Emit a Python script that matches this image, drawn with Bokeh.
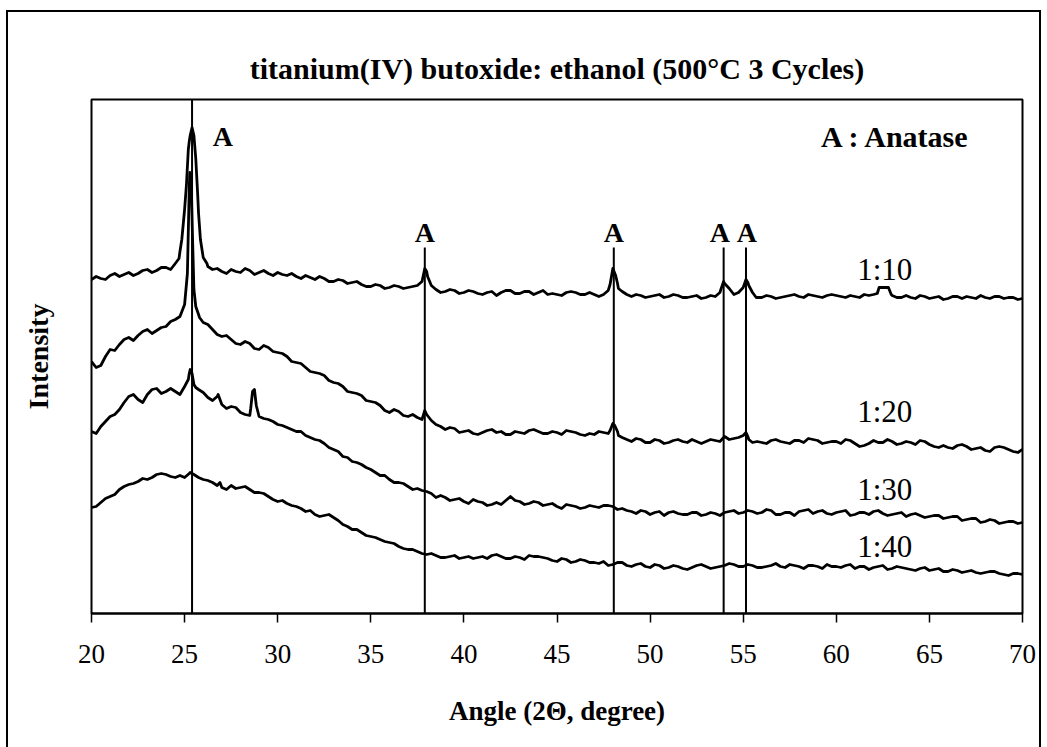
from bokeh.plotting import figure
from bokeh.models import Range1d, Label, FixedTicker
from bokeh.layouts import column
from bokeh.embed import file_html
from bokeh.resources import INLINE

# ---------------- data ----------------
angle = [20.0, 20.5, 21.0, 21.5, 22.0, 22.5, 23.0, 23.5, 24.0, 24.5,
         25.0, 25.5, 26.0, 26.5, 27.0, 27.5, 28.0, 28.5, 29.0, 29.5,
         30.0, 30.5, 31.0, 31.5, 32.0, 32.5, 33.0, 33.5, 34.0, 34.5,
         35.0, 35.5, 36.0, 36.5, 37.0, 37.5, 38.0, 38.5, 39.0, 39.5,
         40.0, 40.5, 41.0, 41.5, 42.0, 42.5, 43.0, 43.5, 44.0, 44.5,
         45.0, 45.5, 46.0, 46.5, 47.0, 47.5, 48.0, 48.5, 49.0, 49.5,
         50.0, 50.5, 51.0, 51.5, 52.0, 52.5, 53.0, 53.5, 54.0, 54.5,
         55.0, 55.5, 56.0, 56.5, 57.0, 57.5, 58.0, 58.5, 59.0, 59.5,
         60.0, 60.5, 61.0, 61.5, 62.0, 62.5, 63.0, 63.5, 64.0, 64.5,
         65.0, 65.5, 66.0, 66.5, 67.0, 67.5, 68.0, 68.5, 69.0, 69.5,
         70.0]
angle_mid = [20.25, 20.75, 21.25, 21.75, 22.25, 22.75, 23.25, 23.75, 24.25, 24.75,
             25.25, 25.75, 26.25, 26.75, 27.25, 27.75, 28.25, 28.75, 29.25, 29.75,
             30.25, 30.75, 31.25, 31.75, 32.25, 32.75, 33.25, 33.75, 34.25, 34.75,
             35.25, 35.75, 36.25, 36.75, 37.25, 37.75, 38.25, 38.75, 39.25, 39.75,
             40.25, 40.75, 41.25, 41.75, 42.25, 42.75, 43.25, 43.75, 44.25, 44.75,
             45.25, 45.75, 46.25, 46.75, 47.25, 47.75, 48.25, 48.75, 49.25, 49.75,
             50.25, 50.75, 51.25, 51.75, 52.25, 52.75, 53.25, 53.75, 54.25, 54.75,
             55.25, 55.75, 56.25, 56.75, 57.25, 57.75, 58.25, 58.75, 59.25, 59.75,
             60.25, 60.75, 61.25, 61.75, 62.25, 62.75, 63.25, 63.75, 64.25, 64.75,
             65.25, 65.75, 66.25, 66.75, 67.25, 67.75, 68.25, 68.75, 69.25, 69.75]

# ---- 1:10 ----
i_1_10 = [334, 335, 338, 337, 341, 340, 344, 343, 346, 350,
          404, 478, 356, 344, 342, 344, 341, 343, 341, 340,
          341, 338, 337, 338, 334, 335, 332, 333, 331, 329,
          327, 328, 326, 327, 326, 328, 342, 324, 322, 323,
          321, 322, 319, 322, 321, 323, 320, 322, 321, 319,
          319, 321, 321, 319, 319, 319, 345, 322, 317, 318,
          317, 319, 317, 318, 316, 318, 316, 317, 330, 319,
          326, 321, 316, 317, 316, 318, 317, 319, 317, 318,
          318, 316, 317, 319, 319, 326, 318, 316, 316, 318,
          315, 317, 315, 317, 317, 315, 316, 317, 315, 316,
          315]
i_1_10_mid = [337, 334, 340, 339, 338, 343, 341, 346, 344, 362,
              472, 400, 347, 345, 340, 342, 345, 339, 343, 338,
              339, 340, 335, 336, 337, 332, 334, 330, 332, 327,
              329, 325, 328, 325, 327, 332, 328, 321, 324, 320,
              323, 320, 321, 318, 323, 320, 322, 319, 323, 320,
              318, 322, 319, 321, 317, 323, 330, 319, 319, 316,
              318, 316, 319, 316, 317, 315, 318, 321, 325, 321,
              331, 316, 318, 315, 317, 319, 316, 318, 316, 319,
              317, 318, 316, 318, 323, 326, 316, 318, 315, 317,
              316, 314, 317, 315, 316, 318, 315, 317, 316, 314]
peak_1_10_x = [24.7, 24.85, 25.1, 25.2, 25.3, 25.4, 25.6, 25.7, 25.85, 26.2,
               37.9, 38.05, 47.85, 48.15, 48.3,
               53.8, 53.95, 54.2, 54.8, 55.15, 55.3, 55.7,
               62.2, 62.3, 62.8, 62.95]
peak_1_10_y = [355, 374, 429, 464, 478, 486, 455, 420, 374, 350,
               345, 337, 329, 338, 325,
               324, 332, 326, 322, 334, 328, 316,
               320, 326, 326, 319]

# ---- 1:20 ----
i_1_20 = [252, 248, 264, 269, 276, 278, 284, 283, 287, 294,
          309, 324, 291, 284, 277, 274, 269, 270, 264, 266,
          261, 257, 251, 246, 241, 238, 231, 227, 221, 218,
          212, 208, 201, 202, 197, 196, 199, 189, 184, 185,
          182, 180, 181, 184, 182, 179, 181, 183, 182, 180,
          181, 183, 181, 178, 179, 181, 190, 176, 172, 174,
          171, 173, 171, 174, 171, 172, 172, 173, 177, 175,
          178, 171, 171, 173, 172, 170, 173, 175, 173, 171,
          172, 174, 170, 168, 173, 171, 172, 170, 171, 173,
          169, 166, 166, 168, 167, 165, 163, 166, 166, 162,
          164]
i_1_20_mid = [246, 257, 263, 274, 273, 282, 280, 286, 292, 297,
              425, 299, 289, 279, 278, 270, 272, 265, 268, 262,
              260, 252, 250, 242, 240, 233, 230, 222, 220, 213,
              211, 203, 204, 198, 199, 194, 193, 187, 186, 181,
              183, 179, 183, 181, 179, 182, 180, 184, 180, 182,
              179, 182, 179, 180, 182, 180, 182, 174, 175, 171,
              174, 170, 173, 172, 174, 170, 174, 172, 174, 176,
              177, 172, 170, 174, 171, 173, 171, 174, 170, 172,
              170, 173, 167, 170, 171, 174, 169, 172, 169, 172,
              167, 168, 165, 169, 164, 166, 162, 167, 164, 161]
peak_1_20_x = [25.15, 25.22, 25.28, 25.35, 25.42, 25.6, 25.8,
               37.9, 47.85, 48.1, 48.3, 55.15, 55.3]
peak_1_20_y = [340, 400, 441, 436, 380, 307, 296,
               203, 183, 188, 178, 181, 174]

# ---- 1:30 ----
i_1_30 = [182, 187, 197, 204, 217, 214, 219, 225, 222, 222,
          227, 229, 221, 213, 209, 207, 201, 198, 197, 194,
          189, 186, 182, 178, 174, 170, 164, 157, 152, 149,
          144, 138, 134, 131, 127, 125, 122, 116, 116, 114,
          112, 114, 111, 109, 109, 117, 112, 110, 111, 109,
          107, 109, 107, 106, 107, 108, 107, 105, 102, 103,
          99, 102, 101, 100, 99, 101, 99, 100, 101, 103,
          101, 102, 101, 103, 99, 101, 102, 104, 102, 100,
          101, 103, 99, 101, 102, 100, 99, 101, 99, 98,
          97, 98, 96, 97, 94, 95, 92, 93, 91, 92,
          91]
i_1_30_mid = [180, 192, 199, 211, 219, 211, 224, 220, 225, 219,
              240, 224, 216, 217, 205, 206, 199, 224, 195, 192,
              188, 184, 182, 176, 173, 166, 162, 156, 151, 146,
              141, 138, 131, 130, 124, 123, 120, 118, 113, 115,
              110, 112, 108, 111, 113, 113, 109, 112, 108, 110,
              105, 108, 105, 108, 106, 108, 104, 103, 100, 102,
              101, 98, 102, 99, 101, 98, 101, 98, 102, 100,
              103, 100, 104, 99, 101, 98, 103, 100, 103, 99,
              102, 98, 101, 99, 103, 98, 100, 97, 100, 96,
              98, 95, 97, 93, 95, 91, 94, 90, 92, 90]
peak_1_30_x = [25.2, 25.3, 25.4, 25.6, 26.8, 28.55, 28.65, 28.75, 28.85]
peak_1_30_y = [234, 244, 240, 226, 219, 205, 222, 224, 208]

# ---- 1:40 ----
i_1_40 = [106, 111, 117, 124, 129, 132, 134, 139, 139, 136,
          136, 139, 134, 131, 126, 128, 126, 124, 121, 117,
          112, 110, 107, 102, 99, 98, 96, 89, 84, 81,
          77, 74, 71, 67, 64, 62, 59, 58, 56, 58,
          56, 55, 57, 58, 57, 55, 56, 58, 57, 55,
          52, 54, 52, 53, 51, 52, 49, 51, 47, 50,
          46, 48, 46, 47, 44, 48, 47, 46, 48, 49,
          47, 48, 46, 48, 47, 49, 47, 48, 47, 49,
          47, 48, 45, 47, 46, 48, 45, 46, 44, 45,
          43, 45, 42, 43, 42, 41, 41, 42, 39, 40,
          39]
i_1_40_mid = [107, 115, 119, 127, 130, 135, 136, 140, 137, 138,
              140, 136, 133, 128, 124, 125, 127, 121, 120, 114,
              113, 108, 105, 103, 97, 99, 93, 87, 84, 78,
              76, 72, 70, 65, 64, 60, 60, 56, 57, 55,
              57, 56, 55, 59, 55, 57, 54, 57, 56, 53,
              55, 51, 54, 51, 50, 48, 51, 48, 49, 47,
              49, 45, 48, 45, 46, 49, 45, 47, 50, 47,
              49, 46, 47, 50, 46, 48, 45, 48, 45, 47,
              46, 49, 47, 44, 47, 44, 47, 45, 43, 46,
              44, 42, 44, 41, 43, 40, 42, 40, 38, 40]
peak_1_40_x = [25.3, 26.9]
peak_1_40_y = [141, 131]

series_names = ["1:10", "1:20", "1:30", "1:40"]
anatase_peaks = [25.4, 37.9, 48.05, 53.95, 55.15]
x_ticks = [20, 25, 30, 35, 40, 45, 50, 55, 60, 65, 70]


def merge(gx, gy, px, py):
    d = dict(zip(gx, gy))
    d.update(zip(px, py))
    xs = sorted(d)
    return xs, [d[x] for x in xs]


SERIF = "Liberation Serif"
BLACK = "black"

p = figure(width=1031, height=740, x_range=Range1d(20, 70), y_range=Range1d(0, 514),
           output_backend="svg", toolbar_location=None,
           min_border_left=83, min_border_right=17, min_border_top=87, min_border_bottom=139)

p.title.text = "titanium(IV) butoxide: ethanol (500\u00b0C 3 Cycles)"
p.title.text_font = SERIF
p.title.text_font_style = "bold"
p.title.text_font_size = "30px"
p.title.text_color = BLACK
p.title.align = "center"
p.title.offset = -15
p.title.standoff = 30

p.xgrid.visible = False
p.ygrid.visible = False
p.outline_line_color = BLACK
p.outline_line_width = 2
p.background_fill_color = "white"
p.border_fill_color = "white"

# x axis
p.xaxis.ticker = FixedTicker(ticks=x_ticks)
p.xaxis.minor_tick_line_color = None
p.xaxis.major_tick_in = 0
p.xaxis.major_tick_out = 9
p.xaxis.major_tick_line_width = 1.5
p.xaxis.major_tick_line_color = BLACK
p.xaxis.axis_line_width = 2
p.xaxis.axis_line_color = BLACK
p.xaxis.major_label_text_font = SERIF
p.xaxis.major_label_text_font_size = "27px"
p.xaxis.major_label_text_color = BLACK
p.xaxis.major_label_standoff = 22
p.xaxis.axis_label = "Angle (2\u0398, degree)"
p.xaxis.axis_label_text_font = SERIF
p.xaxis.axis_label_text_font_style = "bold"
p.xaxis.axis_label_text_font_size = "27px"
p.xaxis.axis_label_text_color = BLACK
p.xaxis.axis_label_standoff = 30

# y axis: label only
p.yaxis.ticker = FixedTicker(ticks=[])
p.yaxis.minor_tick_line_color = None
p.yaxis.major_tick_line_color = None
p.yaxis.axis_line_color = None
p.yaxis.major_label_text_font_size = "0px"
p.yaxis.axis_label = "Intensity"
p.yaxis.axis_label_text_font = SERIF
p.yaxis.axis_label_text_font_style = "bold"
p.yaxis.axis_label_text_font_size = "28px"
p.yaxis.axis_label_text_color = BLACK
p.yaxis.axis_label_standoff = 38

# anatase reference lines
line_tops = [p.y_range.end] + [366] * (len(anatase_peaks) - 1)
p.segment(x0=anatase_peaks, y0=[0] * len(anatase_peaks), x1=anatase_peaks, y1=line_tops,
          line_color=BLACK, line_width=2)

# curves
for gy, gm, px, py in [(i_1_10, i_1_10_mid, peak_1_10_x, peak_1_10_y),
                       (i_1_20, i_1_20_mid, peak_1_20_x, peak_1_20_y),
                       (i_1_30, i_1_30_mid, peak_1_30_x, peak_1_30_y),
                       (i_1_40, i_1_40_mid, peak_1_40_x, peak_1_40_y)]:
    xs, ys = merge(angle + angle_mid, gy + gm, px, py)
    p.line(xs, ys, line_color=BLACK, line_width=2.8, line_join="round")

# "A" labels
label_x = [27.05, 37.9, 48.05, 53.75, 55.2]
label_y = [477, 381, 381, 381, 381]
for xa, ya in zip(label_x, label_y):
    p.add_layout(Label(x=xa, y=ya, text="A", text_font=SERIF, text_font_style="bold",
                       text_font_size="28px", text_align="center", text_baseline="middle",
                       text_color=BLACK))
p.add_layout(Label(x=63.2, y=477, text="A : Anatase", text_font=SERIF, text_font_style="bold",
                   text_font_size="30px", text_align="center", text_baseline="middle",
                   text_color=BLACK))

# series labels
for name, yl in zip(series_names, [344, 202, 124, 67]):
    p.add_layout(Label(x=62.6, y=yl, text=name, text_font=SERIF,
                       text_font_size="31px", text_align="center", text_baseline="middle",
                       text_color=BLACK))

layout = column(p, styles={"border": "2px solid black"}, margin=(10, 0, 0, 6))

open("out.html", "w").write(file_html(layout, INLINE))
